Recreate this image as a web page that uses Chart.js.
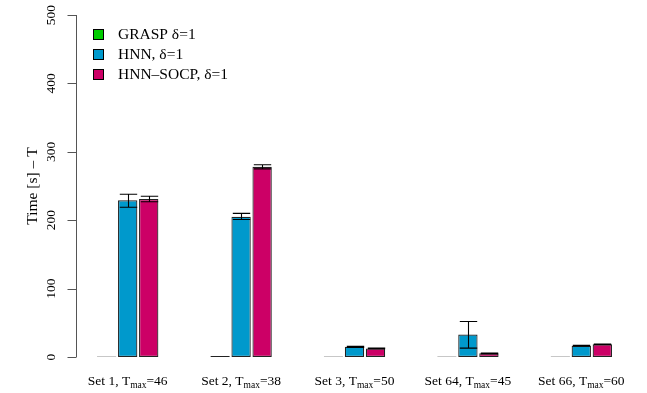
<!DOCTYPE html>
<html>
<head>
<meta charset="utf-8">
<script src="https://cdn.jsdelivr.net/npm/chart.js@4.4.1/dist/chart.umd.min.js"></script>
<style>
  html, body { margin: 0; padding: 0; background: #ffffff; }
  #wrap { width: 647px; height: 393px; position: relative; }
</style>
</head>
<body>
<div id="wrap"><canvas id="chart" width="647" height="393"></canvas></div>
<script>
// Instance sets and their time budgets
const categories = ['Set 1', 'Set 2', 'Set 3', 'Set 64', 'Set 66'];
const tmaxValues = [46, 38, 50, 45, 60];

// Mean time above budget (s) per method
const graspTime = [0.8, 1.6, 0.8, 0.8, 0.8];
const hnnTime   = [229, 205, 15, 33, 16.5];
const socpTime  = [231, 278, 12.5, 5.3, 18.5];

// Spread around the means (lower / upper whisker ends)
const hnnLow   = [219, 201, 14, 13, 16];
const hnnHigh  = [238, 210, 15.5, 52, 17];
const socpLow  = [227, 275, 12, 4.5, 18];
const socpHigh = [235, 281, 13, 5.8, 19];

// Value axis
const yTicks = [0, 100, 200, 300, 400, 500];
const yTitle = 'Time [s] \u2013 T';

const seriesNames = ['GRASP \u03b4=1', 'HNN, \u03b4=1', 'HNN\u2013SOCP, \u03b4=1'];
const seriesColors = ['#00cc00', '#0099cc', '#cc0066'];

const SERIF = '"Liberation Serif", "DejaVu Serif", serif';

const errorBars = [null, { low: hnnLow, high: hnnHigh }, { low: socpLow, high: socpHigh }];

const decorations = {
  id: 'decorations',
  afterDatasetsDraw(chart) {
    const ctx = chart.ctx;
    const x = chart.scales.x;
    const y = chart.scales.y;

    ctx.save();
    // error bars
    ctx.strokeStyle = '#000000';
    ctx.lineWidth = 1.1;
    errorBars.forEach((eb, di) => {
      if (!eb) return;
      const meta = chart.getDatasetMeta(di);
      meta.data.forEach((bar, i) => {
        const cx = Math.round(bar.x) + 0.5;
        const half = bar.width * 0.45;
        const yl = y.getPixelForValue(eb.low[i]);
        const yh = y.getPixelForValue(eb.high[i]);
        ctx.beginPath();
        ctx.moveTo(cx, yl); ctx.lineTo(cx, yh);
        ctx.moveTo(cx - half, yl); ctx.lineTo(cx + half, yl);
        ctx.moveTo(cx - half, yh); ctx.lineTo(cx + half, yh);
        ctx.stroke();
      });
    });

    // value axis: line, ticks, rotated labels
    const axisX = 76.5;
    ctx.strokeStyle = '#555555';
    ctx.lineWidth = 1;
    ctx.beginPath();
    ctx.moveTo(axisX, y.getPixelForValue(yTicks[0]));
    ctx.lineTo(axisX, y.getPixelForValue(yTicks[yTicks.length - 1]));
    yTicks.forEach(v => {
      const py = Math.round(y.getPixelForValue(v)) + 0.5;
      ctx.moveTo(axisX - 9, py); ctx.lineTo(axisX, py);
    });
    ctx.stroke();

    ctx.fillStyle = '#000000';
    ctx.font = '13.5px ' + SERIF;
    ctx.textAlign = 'center';
    ctx.textBaseline = 'middle';
    yTicks.forEach(v => {
      const py = y.getPixelForValue(v);
      ctx.save();
      ctx.translate(51, py);
      ctx.rotate(-Math.PI / 2);
      ctx.fillText(String(v), 0, 0);
      ctx.restore();
    });

    // axis title
    ctx.font = '15.5px ' + SERIF;
    ctx.save();
    ctx.translate(33, (y.getPixelForValue(0) + y.getPixelForValue(500)) / 2);
    ctx.rotate(-Math.PI / 2);
    ctx.fillText(yTitle, 0, 0);
    ctx.restore();

    // category labels with subscript
    const mainFont = '13.5px ' + SERIF;
    const subFont = '9.5px ' + SERIF;
    ctx.textAlign = 'left';
    ctx.textBaseline = 'alphabetic';
    categories.forEach((c, i) => {
      const a = c + ', T';
      const s = 'max';
      const b = '=' + tmaxValues[i];
      ctx.font = mainFont;
      const wa = ctx.measureText(a).width;
      const wb = ctx.measureText(b).width;
      ctx.font = subFont;
      const ws = ctx.measureText(s).width;
      const total = wa + ws + wb;
      let px = x.getPixelForValue(i) - total / 2;
      const base = 385;
      ctx.font = mainFont;
      ctx.fillText(a, px, base);
      px += wa;
      ctx.font = subFont;
      ctx.fillText(s, px, base + 3);
      px += ws;
      ctx.font = mainFont;
      ctx.fillText(b, px, base);
    });

    // legend
    ctx.font = '15.5px ' + SERIF;
    ctx.textBaseline = 'middle';
    chart.data.datasets.forEach((ds, i) => {
      const cy = 35 + i * 20;
      ctx.fillStyle = ds.backgroundColor;
      ctx.fillRect(93.5, cy - 5.5, 10, 10);
      ctx.strokeStyle = '#000000';
      ctx.lineWidth = 1;
      ctx.strokeRect(93.5, cy - 5.5, 10, 10);
      ctx.fillStyle = '#000000';
      ctx.fillText(ds.label, 118, cy);
    });
    ctx.restore();
  }
};

new Chart(document.getElementById('chart'), {
  type: 'bar',
  data: {
    labels: categories,
    datasets: [graspTime, hnnTime, socpTime].map((vals, i) => ({
      label: seriesNames[i],
      data: vals,
      backgroundColor: seriesColors[i],
      borderColor: '#222222',
      borderWidth: 1.2,
      borderSkipped: false,
      categoryPercentage: 0.556,
      barPercentage: 0.92
    }))
  },
  options: {
    responsive: false,
    animation: false,
    devicePixelRatio: 1,
    layout: { padding: { left: 71, right: 9, top: 15, bottom: 36 } },
    plugins: { legend: { display: false }, tooltip: { enabled: false } },
    scales: {
      x: { display: false },
      y: { display: false, min: 0, max: 500 }
    }
  },
  plugins: [decorations]
});
</script>
</body>
</html>
